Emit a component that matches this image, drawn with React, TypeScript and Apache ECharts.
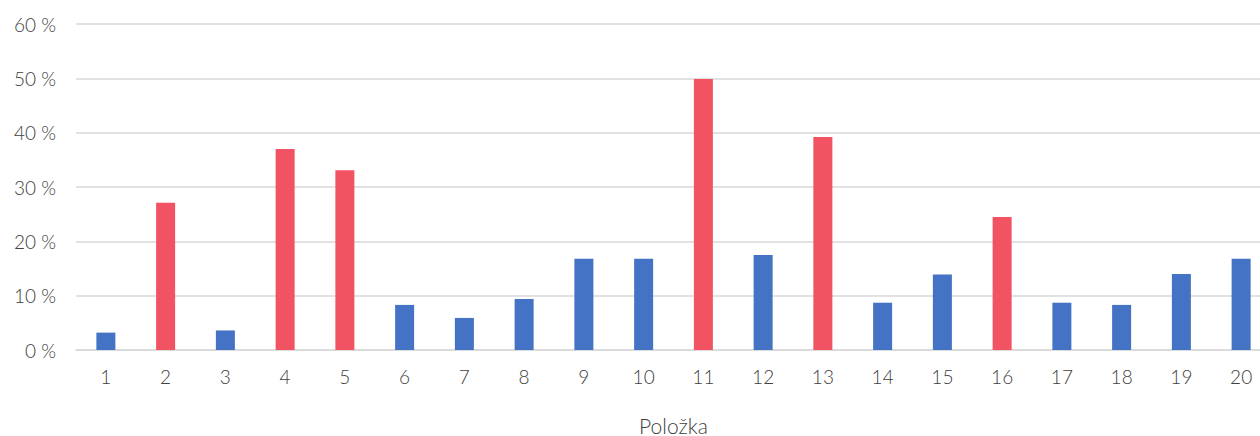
import React, { useEffect, useRef } from "react";
import * as echarts from "echarts";

const categories = ["1","2","3","4","5","6","7","8","9","10","11","12","13","14","15","16","17","18","19","20"];
const values = [3.2, 27.1, 3.6, 37.0, 33.1, 8.3, 5.9, 9.4, 16.8, 16.8, 49.9, 17.5, 39.2, 8.7, 13.9, 24.5, 8.7, 8.3, 14.0, 16.8];
const highlighted = [false, true, false, true, true, false, false, false, false, false, true, false, true, false, false, true, false, false, false, false];
const yTicks = [0, 10, 20, 30, 40, 50, 60];
const axisName = "Položka";

const BLUE = "#4472C4";
const RED = "#F15362";
const FONT = "Lato, 'Open Sans', sans-serif";

export default function App() {
  const ref = useRef<HTMLDivElement>(null);
  useEffect(() => {
    if (!ref.current) return;
    const chart = echarts.init(ref.current, undefined, { renderer: "svg" });
    chart.setOption({
      animation: false,
      grid: { left: 76, right: -11, top: 24, bottom: 86, containLabel: false, outerBoundsMode: "none" },
      xAxis: {
        type: "category",
        data: categories,
        name: axisName,
        nameLocation: "middle",
        nameGap: 66,
        nameTextStyle: { fontFamily: FONT, fontSize: 21, fontWeight: 300, color: "#404040", lineHeight: 18 },
        axisTick: { show: false },
        axisLine: { lineStyle: { color: "#D9D9D9", width: 1.5 } },
        axisLabel: { fontFamily: FONT, fontSize: 19, fontWeight: 300, color: "#404040", margin: 17 },
      },
      yAxis: {
        type: "value",
        min: yTicks[0],
        max: yTicks[yTicks.length - 1],
        interval: 10,
        axisLine: { show: false },
        axisTick: { show: false },
        splitLine: { lineStyle: { color: "#D9D9D9", width: 1.5 } },
        axisLabel: {
          fontFamily: FONT, fontSize: 19, fontWeight: 300, color: "#404040", margin: 20,
          formatter: (v: number) => `${v} %`,
        },
      },
      series: [
        {
          type: "bar",
          barWidth: 19,
          data: values.map((v, i) => ({
            value: v,
            itemStyle: { color: highlighted[i] ? RED : BLUE },
          })),
        },
      ],
    });
    return () => chart.dispose();
  }, []);
  return (
    <div
      ref={ref}
      style={{ position: "absolute", left: 0, top: 0, width: 1260, height: 436, background: "#fff" }}
    />
  );
}
